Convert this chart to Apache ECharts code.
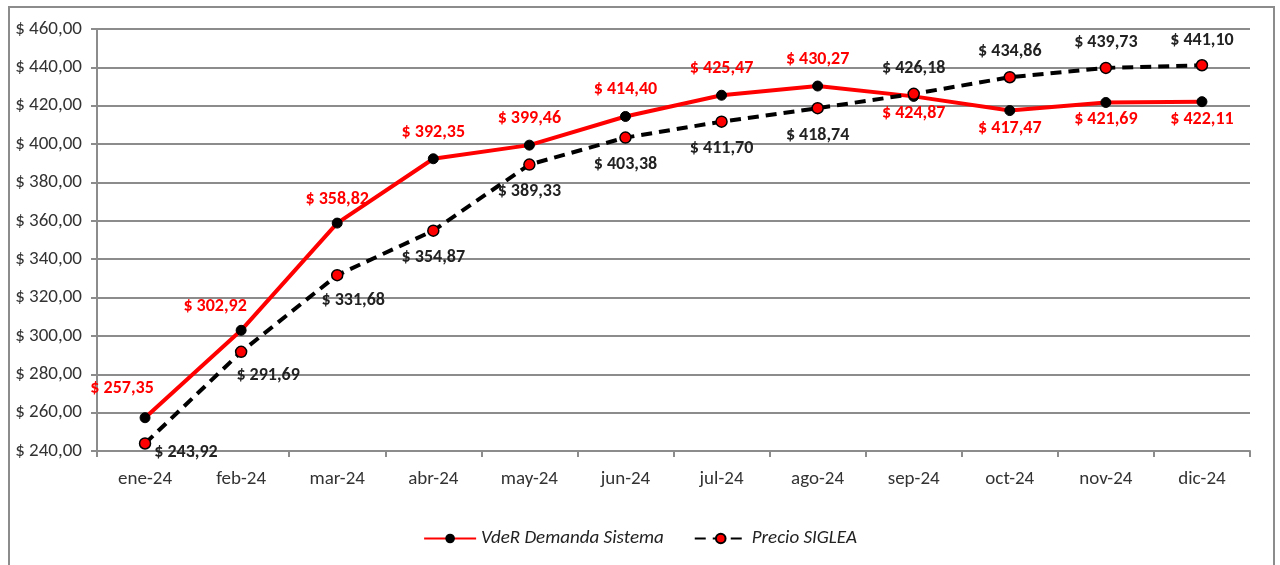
<!DOCTYPE html>
<html>
<head>
<meta charset="utf-8">
<script src="https://cdn.jsdelivr.net/npm/echarts@6/dist/echarts.min.js"></script>
<style>
  html, body { margin: 0; padding: 0; background: #fff; }
  #chartMain { width: 1280px; height: 565px; }
</style>
</head>
<body>
<div id="chartMain"></div>
<script>
// datos
var meses = ['ene-24', 'feb-24', 'mar-24', 'abr-24', 'may-24', 'jun-24', 'jul-24', 'ago-24', 'sep-24', 'oct-24', 'nov-24', 'dic-24'];
var vdeR = [257.35, 302.92, 358.82, 392.35, 399.46, 414.40, 425.47, 430.27, 424.87, 417.47, 421.69, 422.11];
var siglea = [243.92, 291.69, 331.68, 354.87, 389.33, 403.38, 411.70, 418.74, 426.18, 434.86, 439.73, 441.10];
var nombres = ['VdeR Demanda Sistema', 'Precio SIGLEA'];

var FONT = "Carlito, 'Liberation Sans Narrow', 'Liberation Sans', sans-serif";

function pesos(v) {
  return '$ ' + v.toFixed(2).replace('.', ',');
}

var myChart = echarts.init(document.getElementById('chartMain'));

// etiquetas: el rojo arriba y el negro abajo, se invierten desde sep-24
function datosRojo() {
  return vdeR.map(function(v, i) {
    var abajo = i >= 8;
    var lab = { position: abajo ? 'bottom' : 'top', distance: abajo ? 3 : 12 };
    if (i == 0) { lab.distance = 15; lab.offset = [-23, 0]; }
    if (i == 1) { lab.distance = 9; lab.offset = [-26, 0]; }
    if (i == 2) lab.distance = 9;
    return { value: v, label: lab };
  });
}

function datosNegro() {
  return siglea.map(function(v, i) {
    var arriba = i >= 8;
    var lab = { position: arriba ? 'top' : 'bottom', distance: arriba ? 10 : 12 };
    if (i == 0) lab = { position: 'right', distance: 3, offset: [0, 9] };
    if (i == 1) { lab.distance = 8; lab.offset = [27, 0]; }
    if (i == 2) { lab.distance = 10; lab.offset = [16, 0]; }
    return { value: v, label: lab };
  });
}

var option = {
  animation: false,
  backgroundColor: '#fff',
  graphic: [{
    type: 'rect',
    shape: { x: 9, y: 7, width: 1265, height: 580 },
    style: { fill: 'none', stroke: '#8c8c8c', lineWidth: 2 }
  }],
  legend: {
    top: 524,
    left: 'center',
    itemGap: 30,
    itemWidth: 52,
    itemHeight: 12,
    textStyle: { fontFamily: FONT, fontSize: 19, fontStyle: 'italic', color: '#222' },
    data: nombres
  },
  grid: { left: 97, right: 30, top: 29, bottom: 114 },
  xAxis: {
    type: 'category',
    data: meses,
    boundaryGap: true,
    axisLine: { lineStyle: { color: '#8c8c8c', width: 2 } },
    axisTick: { show: true, length: 6, lineStyle: { color: '#8c8c8c', width: 2 } },
    axisLabel: { fontFamily: FONT, fontSize: 19, color: '#333', margin: 19 }
  },
  yAxis: {
    type: 'value',
    min: 240,
    max: 460,
    interval: 20,
    axisLine: { show: true, lineStyle: { color: '#8c8c8c', width: 2 } },
    axisTick: { show: true, length: 6, lineStyle: { color: '#8c8c8c', width: 2 } },
    splitLine: { lineStyle: { color: '#8c8c8c', width: 2 } },
    axisLabel: {
      fontFamily: FONT, fontSize: 19, color: '#333', margin: 15,
      formatter: function(v) { return pesos(v); }
    }
  },
  series: [
    {
      name: nombres[0],
      type: 'line',
      data: datosRojo(),
      symbol: 'circle',
      symbolSize: 10,
      z: 3,
      lineStyle: { color: '#ff0000', width: 4 },
      itemStyle: { color: '#000', borderColor: '#000' },
      label: {
        show: true,
        fontFamily: FONT, fontSize: 18, fontWeight: 'bold', color: '#ff0000',
        formatter: function(p) { return pesos(p.value); }
      }
    },
    {
      name: nombres[1],
      type: 'line',
      data: datosNegro(),
      symbol: 'circle',
      symbolSize: 11,
      z: 4,
      lineStyle: { color: '#000', width: 4, type: [11, 7] },
      itemStyle: { color: '#ff0000', borderColor: '#000', borderWidth: 1.5 },
      label: {
        show: true,
        fontFamily: FONT, fontSize: 18, fontWeight: 'bold', color: '#222',
        formatter: function(p) { return pesos(p.value); }
      }
    }
  ]
};

myChart.setOption(option, true);
</script>
</body>
</html>
